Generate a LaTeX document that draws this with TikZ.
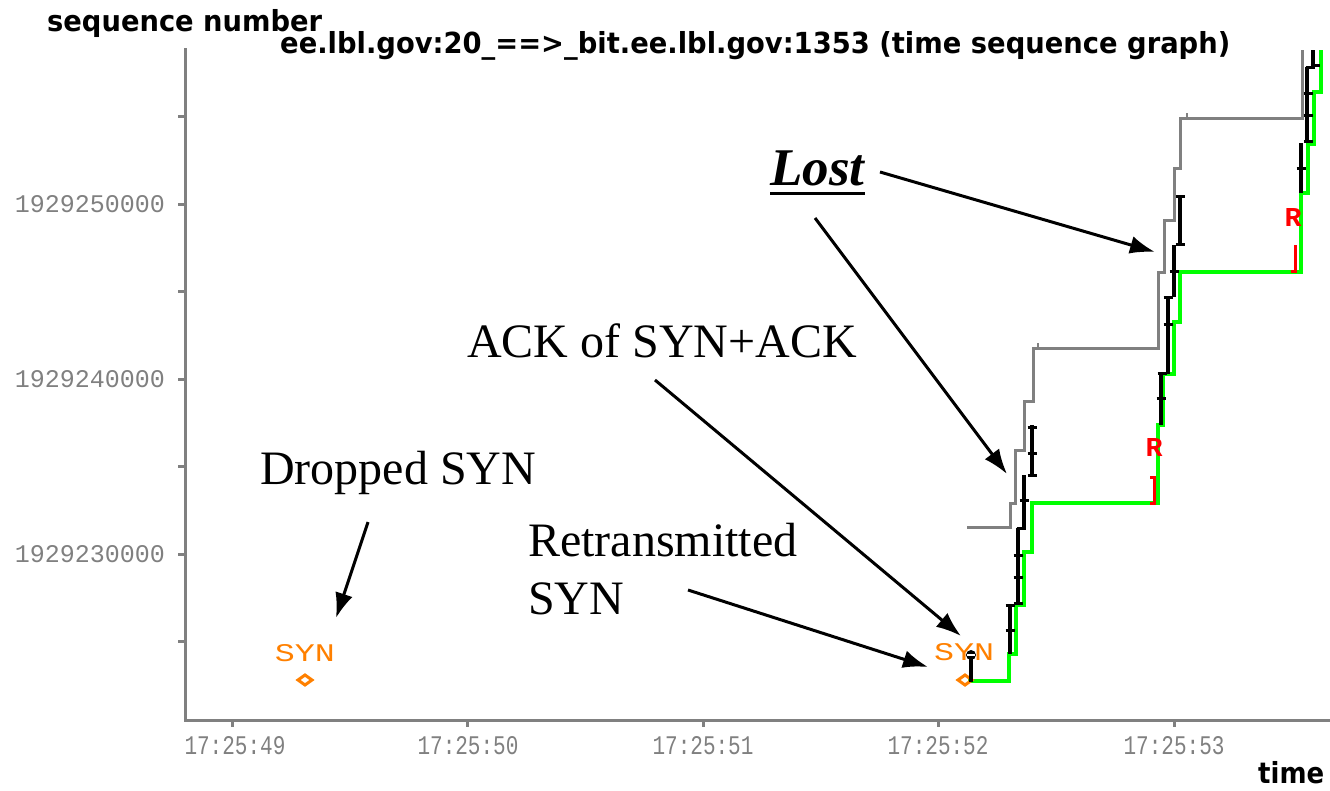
\documentclass[tikz,border=0pt]{standalone}
\usepackage{fontspec}
\usepackage{graphicx}
\setmainfont{Liberation Serif}
\newfontfamily\pixmono{Liberation Mono}
\newfontfamily\headfont{DejaVu Sans}
\usetikzlibrary{arrows.meta}
\definecolor{axisgray}{RGB}{128,128,128}
\definecolor{ackgreen}{RGB}{0,255,0}
\definecolor{synorange}{RGB}{255,128,0}
\definecolor{rexmitred}{RGB}{255,0,0}

\tikzset{
  axisline/.style={draw=axisgray, line width=3pt},
  winline/.style={draw=axisgray, line width=3pt, line join=miter},
  ackline/.style={draw=ackgreen, line width=3.2pt, line join=miter},
  seg/.style={draw=black, line width=3.5pt},
  segtick/.style={draw=black, line width=3pt},
  rexmit/.style={draw=rexmitred, line width=3pt},
  ylabel/.style={text=axisgray, inner sep=0pt, anchor=east},
  xlabel/.style={text=axisgray, inner sep=0pt, anchor=center},
  headtext/.style={text=black, inner sep=0pt, anchor=base west},
  annot/.style={font=\fontsize{48}{58}\selectfont, inner sep=0pt, anchor=base west},
  pointer/.style={draw=black, line width=3pt, -{Latex[length=25pt,width=18pt]}},
  orangelabel/.style={text=synorange, inner sep=0pt, anchor=south},
  redlabel/.style={text=rexmitred, inner sep=0pt, anchor=south},
}

\begin{document}
\begin{tikzpicture}[x=1pt, y=-1pt]
\useasboundingbox (0,0) rectangle (1330,790);

% ---------- axes ----------
\draw[axisline] (185,48) -- (185,720) -- (1330,720);
\foreach \ty in {116,204,291,379,466,554,641}
  \draw[axisline] (178,\ty) -- (185,\ty);
\foreach \tx in {232,467,703,938,1174}
  \draw[axisline] (\tx,720) -- (\tx,727);

% y tick labels
\node[ylabel] (y250) at (165,204) {\resizebox{150pt}{17pt}{\pixmono 1929250000}};
\node[ylabel] (y240) at (165,379) {\resizebox{150pt}{17pt}{\pixmono 1929240000}};
\node[ylabel] (y230) at (165,554) {\resizebox{150pt}{17pt}{\pixmono 1929230000}};

% x tick labels
\node[xlabel] (t49) at (235,746) {\resizebox{101pt}{18pt}{\pixmono 17:25:49}};
\node[xlabel] (t50) at (468,746) {\resizebox{101pt}{18pt}{\pixmono 17:25:50}};
\node[xlabel] (t51) at (703,746) {\resizebox{101pt}{18pt}{\pixmono 17:25:51}};
\node[xlabel] (t52) at (938,746) {\resizebox{101pt}{18pt}{\pixmono 17:25:52}};
\node[xlabel] (t53) at (1174,746) {\resizebox{101pt}{18pt}{\pixmono 17:25:53}};

% axis titles and graph title
\node[headtext] (ytitle) at (47,31)
  {\resizebox{275pt}{\height}{\headfont\fontsize{29}{32}\selectfont\bfseries sequence number}};
\node[headtext] (gtitle) at (280,53)
  {\resizebox{950pt}{\height}{\headfont\fontsize{29}{32}\selectfont\bfseries ee.lbl.gov:20\_==>\_bit.ee.lbl.gov:1353 (time sequence graph)}};
\node[headtext] (xtitle) at (1258,783)
  {\resizebox{66pt}{\height}{\headfont\fontsize{29}{32}\selectfont\bfseries time}};

% ---------- advertised window (gray) ----------
\draw[winline] (967,527) -- (1010,527) -- (1010,503) -- (1015,503) -- (1015,450)
  -- (1024,450) -- (1024,401) -- (1033,401) -- (1033,348) -- (1158,348)
  -- (1158,272) -- (1164,272) -- (1164,220) -- (1174,220) -- (1174,168)
  -- (1180,168) -- (1180,118) -- (1302,118) -- (1302,50);
\draw[axisgray, line width=2pt] (1038,343) -- (1038,348);
\draw[axisgray, line width=2pt] (1187,113) -- (1187,118);

% ---------- cumulative ACKs (green) ----------
\draw[ackline] (968,681) -- (1009,681) -- (1009,654) -- (1016,654) -- (1016,605)
  -- (1024,605) -- (1024,552) -- (1032,552) -- (1032,503) -- (1158,503)
  -- (1158,425) -- (1163,425) -- (1163,374) -- (1174,374) -- (1174,322)
  -- (1180,322) -- (1180,272) -- (1301,272) -- (1301,193) -- (1308,193)
  -- (1308,144) -- (1314,144) -- (1314,92) -- (1321,92) -- (1321,50);

% ---------- SYN markers (orange) ----------
\node[orangelabel] (syn1) at (305,662) {\resizebox{60pt}{17pt}{\pixmono SYN}};
\draw[synorange, line width=3pt] (298,680) -- (305,675) -- (312,680) -- (305,685) -- cycle;
\node[orangelabel] (syn2) at (964,661) {\resizebox{60pt}{17pt}{\pixmono SYN}};
\draw[synorange, line width=3pt] (958,680) -- (965,675) -- (972,680) -- (965,685) -- cycle;

% ---------- data segments (black) ----------
\foreach \sx/\st/\sb in {971/653/682, 1010/605/654, 1018/528/604, 1024/475/527,
    1032/425/475, 1161/373/425, 1168/297/374, 1174/245/297, 1180/195/245,
    1301/143/193, 1307/67/143, 1313/50/65}
  \draw[seg] (\sx,\st) -- (\sx,\sb);
\foreach \kx/\ky in {1010/630, 1010/605, 1018/555, 1018/577, 1018/603, 1021/528,
    1024/500, 1032/427, 1032/453, 1032/475, 1161/398, 1162/373, 1168/297,
    1168/324, 1174/271, 1180/196, 1180/244, 1301/168, 1308/93, 1308/115,
    1308/141, 1310/67, 1315/65}
  \draw[segtick] (\kx-4.5,\ky) -- (\kx+4.5,\ky);
\fill[black] (971,655) ellipse (5pt and 5pt);
\draw[white, line width=1.5pt] (967,655) -- (975,655);

% ---------- retransmissions (red) ----------
\node[redlabel] (r1) at (1154,457) {\resizebox{17pt}{18pt}{\pixmono\bfseries R}};
\draw[rexmit] (1150,477) -- (1154,477) -- (1154,503) -- (1150,503);
\node[redlabel] (r2) at (1293,227) {\resizebox{17pt}{18pt}{\pixmono\bfseries R}};
\draw[rexmit] (1295,245) -- (1295,273);
\draw[rexmit] (1291,271) -- (1297,271);

% ---------- annotations ----------
\node[annot, font=\fontsize{53}{62}\selectfont\bfseries\itshape] (lost) at (770,185) {Lost};
\draw[line width=3pt] ([yshift=-8pt]lost.base west) -- ([yshift=-8pt]lost.base east);
\node[annot] (ackack) at (467,357) {ACK of SYN+ACK};
\node[annot] (dropped) at (260,484) {Dropped SYN};
\node[annot] (retx1) at (528,556) {Retransmitted};
\node[annot] (retx2) at (528,614) {SYN};

\coordinate (lostA) at (880,172);
\coordinate (lostAtip) at (1155,252);
\coordinate (lostB) at (815,218);
\coordinate (lostBtip) at (1007,474);
\coordinate (ackA) at (655,380);
\coordinate (ackAtip) at (961,636);
\coordinate (retxA) at (688,590);
\coordinate (retxAtip) at (928,667);
\coordinate (dropA) at (368,522);
\coordinate (dropAtip) at (336,618);

\draw[pointer] (lostA) -- (lostAtip);
\draw[pointer] (lostB) -- (lostBtip);
\draw[pointer] (ackA) -- (ackAtip);
\draw[pointer] (retxA) -- (retxAtip);
\draw[pointer] (dropA) -- (dropAtip);

\end{tikzpicture}
\end{document}
